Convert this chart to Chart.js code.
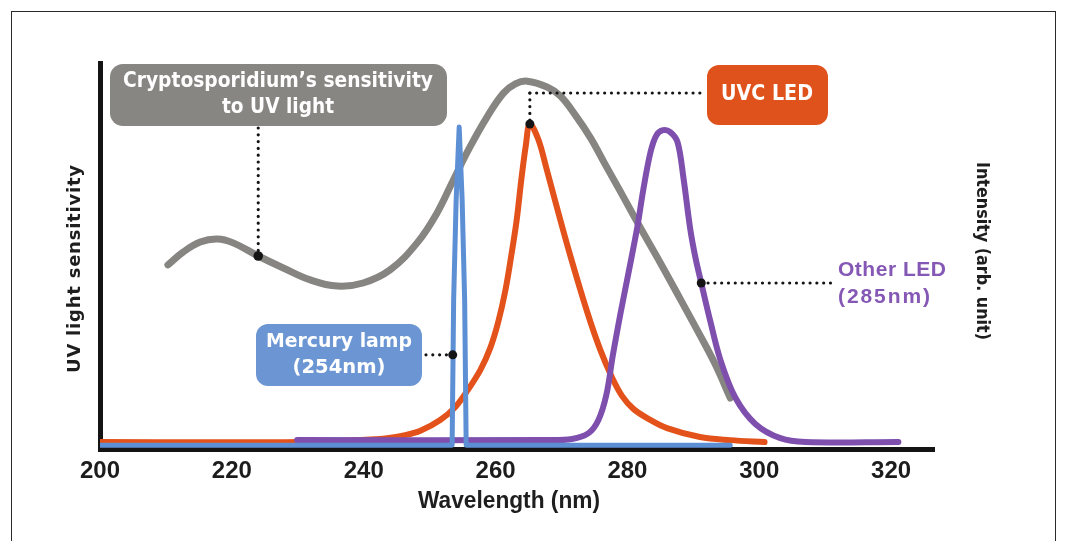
<!DOCTYPE html>
<html>
<head>
<meta charset="utf-8">
<script src="https://cdn.jsdelivr.net/npm/chart.js@4.4.1/dist/chart.umd.min.js"></script>
<style>
  html, body { margin: 0; padding: 0; background: #fff; }
  #wrap { position: relative; width: 1065px; height: 541px; overflow: hidden; }
  #frame { position: absolute; left: 11px; top: 11px; width: 1045px; height: 560px;
           border: 1.5px solid #2a2a2a; box-sizing: border-box; }
  #c { position: absolute; left: 0; top: 0; }
</style>
</head>
<body>
<div id="wrap"><div id="frame"></div><canvas id="c" width="1065" height="541"></canvas></div>
<script>
// ---- data (wavelength in nm, arbitrary units 0..100)
const xTicks = [200, 220, 240, 260, 280, 300, 320];

const cryptoNm   = [210.3, 212.6, 215.2, 217.8, 220.2, 224.0, 227.8, 231.9, 236.0, 239.9, 244.0, 248.1, 251.1, 253.6, 256.1, 258.7, 261.2, 263.0, 264.8, 267.8, 269.8, 272.1, 274.4, 276.6, 278.9, 281.9, 285.0, 288.0, 291.0, 293.3, 295.6];
const cryptoSens = [47.7, 51.0, 53.6, 54.4, 53.4, 50.0, 46.9, 43.8, 42.2, 43.0, 46.4, 53.4, 61.1, 69.7, 78.2, 86.0, 92.2, 94.6, 95.3, 93.8, 91.5, 86.5, 80.6, 73.8, 66.8, 57.5, 48.2, 38.9, 29.5, 22.0, 13.2];

const uvcNm  = [200, 230.3, 242.5, 246.3, 248.6, 251.6, 253.9, 255.8, 257.7, 259.2, 260.4, 261.5, 262.4, 263.2, 263.9, 264.6, 265.2, 266.5, 267.7, 269.0, 271.3, 273.9, 275.9, 277.7, 279.2, 280.9, 283.2, 286.0, 291.0, 295.6, 300.8];
const uvcInt = [1.8, 1.8, 2.6, 3.6, 4.7, 7.5, 10.9, 15.3, 20.5, 26.2, 32.9, 41.2, 50.3, 59.3, 69.7, 78.8, 84.2, 80.1, 72.8, 64.5, 50.3, 35.5, 25.6, 18.4, 13.7, 10.4, 7.8, 5.4, 3.1, 2.3, 1.8];

const mercuryNm  = [200, 253.41, 253.64, 254.02, 254.48, 254.93, 255.31, 255.54, 295.6];
const mercuryInt = [1.0, 1.0, 38.6, 64.5, 83.4, 64.5, 38.6, 1.0, 1.0];

const otherNm  = [229.9, 267.8, 271.6, 274.1, 275.6, 276.8, 277.8, 278.9, 280.1, 281.5, 282.4, 283.5, 284.4, 285.4, 286.5, 287.6, 288.5, 289.5, 290.3, 291.2, 292.6, 294.1, 296.4, 299.4, 303.2, 307.0, 321.1];
const otherInt = [2.3, 2.3, 2.6, 4.1, 7.5, 14.0, 24.4, 34.7, 45.1, 57.5, 67.1, 76.9, 81.3, 82.6, 82.1, 79.5, 70.2, 57.3, 49.7, 43.0, 32.9, 23.1, 13.2, 6.5, 2.8, 1.8, 1.8];

// callout anchor points: [gray, UVC, mercury, other LED]
const anchorNm  = [224.0, 265.2, 253.5, 291.2];
const anchorVal = [50.0, 84.2, 24.4, 43.0];

const SANS = '"Liberation Sans", Arial, Helvetica, sans-serif';
const WIDE = '"DejaVu Sans", Verdana, sans-serif';
const pts = (xs, ys) => xs.map((x, i) => ({ x, y: ys[i] }));

function drawFit(ctx, text, cx, cy, w, size, color, fam, rot) {
  ctx.save();
  ctx.translate(cx, cy);
  if (rot) ctx.rotate(rot);
  ctx.font = `bold ${size}px ${fam}`;
  ctx.fillStyle = color;
  ctx.textBaseline = 'middle';
  ctx.textAlign = 'left';
  const m = ctx.measureText(text).width;
  const n = Array.from(text).length;
  if (m < w && n > 1 && 'letterSpacing' in ctx) {
    ctx.letterSpacing = ((w - m) / (n - 1)).toFixed(2) + 'px';
    ctx.fillText(text, -w / 2, 0);
    ctx.letterSpacing = '0px';
  } else {
    ctx.fillText(text, -w / 2, 0, w);
  }
  ctx.restore();
}

function roundBox(ctx, x0, y0, x1, y1, r, fill) {
  ctx.beginPath();
  ctx.roundRect(x0, y0, x1 - x0, y1 - y0, r);
  ctx.fillStyle = fill;
  ctx.fill();
}

function dotted(ctx, x0, y0, x1, y1) {
  ctx.save();
  ctx.strokeStyle = '#141414';
  ctx.lineWidth = 3.2;
  ctx.lineCap = 'round';
  ctx.setLineDash([0, 6.8]);
  ctx.beginPath();
  ctx.moveTo(x0, y0);
  ctx.lineTo(x1, y1);
  ctx.stroke();
  ctx.restore();
}

function dot(ctx, x, y, r) {
  ctx.beginPath();
  ctx.arc(x, y, r, 0, Math.PI * 2);
  ctx.fillStyle = '#141414';
  ctx.fill();
}

const callouts = {
  id: 'callouts',
  afterDatasetsDraw(chart) {
    const ctx = chart.ctx, xs = chart.scales.x, ys = chart.scales.y;
    const A = anchorNm.map((n, i) => [xs.getPixelForValue(n), ys.getPixelForValue(anchorVal[i])]);

    // Cryptosporidium box
    roundBox(ctx, 110, 64, 447, 126, 13, '#878682');
    drawFit(ctx, 'Cryptosporidium’s sensitivity', 278, 82, 310, 21, '#fff', WIDE);
    drawFit(ctx, 'to UV light', 278, 108, 112, 21, '#fff', WIDE);
    dotted(ctx, A[0][0], 128, A[0][0], A[0][1]);
    dot(ctx, A[0][0], A[0][1], 4.8);

    // UVC LED box
    roundBox(ctx, 707, 65, 828, 125, 12, '#e0521c');
    drawFit(ctx, 'UVC LED', 767, 94, 92, 22, '#fff', WIDE);
    dotted(ctx, A[1][0], 93, 704, 93);
    dotted(ctx, A[1][0], 93, A[1][0], A[1][1]);
    dot(ctx, A[1][0], A[1][1], 4.5);

    // Mercury lamp box
    roundBox(ctx, 256, 324, 422, 386, 12, '#6b96d3');
    drawFit(ctx, 'Mercury lamp', 339, 342, 146, 20, '#fff', WIDE);
    drawFit(ctx, '(254nm)', 339, 368, 93, 20, '#fff', WIDE);
    dotted(ctx, 426, A[2][1], A[2][0], A[2][1]);
    dot(ctx, A[2][0], A[2][1], 4.5);

    // Other LED label
    dotted(ctx, A[3][0], A[3][1], 833, A[3][1]);
    dot(ctx, A[3][0], A[3][1], 4.5);
    drawFit(ctx, 'Other LED', 838 + 54, 270, 108, 21, '#8558b5', SANS);
    drawFit(ctx, '(285nm)', 838 + 46, 297, 92, 21, '#8558b5', SANS);

    // axis titles
    drawFit(ctx, 'UV light sensitivity', 75.5, 269, 208, 18, '#1e1e1e', WIDE, -Math.PI / 2);
    drawFit(ctx, 'Intensity (arb. unit)', 981, 251, 178, 17, '#1e1e1e', WIDE, Math.PI / 2);
    drawFit(ctx, 'Wavelength (nm)', 509, 502, 182, 23, '#1e1e1e', SANS);
  }
};

new Chart(document.getElementById('c'), {
  type: 'line',
  data: {
    datasets: [
      { label: 'Mercury lamp (254nm)', data: pts(mercuryNm, mercuryInt), borderColor: '#5d8fd5', borderWidth: 5, tension: 0 },
      { label: 'Other LED (285nm)', data: pts(otherNm, otherInt), borderColor: '#7f4fae', borderWidth: 6, tension: 0.35 },
      { label: 'UVC LED', data: pts(uvcNm, uvcInt), borderColor: '#e3521b', borderWidth: 6, tension: 0.35 },
      { label: 'Cryptosporidium sensitivity', data: pts(cryptoNm, cryptoSens), borderColor: '#868582', borderWidth: 7, tension: 0.4 },
    ],
  },
  options: {
    responsive: false,
    animation: false,
    devicePixelRatio: 1,
    layout: { padding: { left: 0, top: 63, right: 131, bottom: 0 } },
    elements: { point: { radius: 0 }, line: { borderCapStyle: 'round', borderJoinStyle: 'round' } },
    plugins: { legend: { display: false }, tooltip: { enabled: false } },
    scales: {
      x: {
        type: 'linear', min: 200, max: 326.5,
        afterBuildTicks: s => { s.ticks = xTicks.map(v => ({ value: v })); },
        afterFit: s => { s.height = 92; },
        grid: { display: false, drawTicks: false },
        border: { color: '#141414', width: 5 },
        ticks: { padding: 8, maxRotation: 0, color: '#1c1c1c', font: { family: SANS, size: 24, weight: 'bold' } },
      },
      y: {
        min: 0, max: 100,
        afterFit: s => { s.width = 100; },
        grid: { display: false, drawTicks: false },
        border: { color: '#141414', width: 5 },
        ticks: { display: false },
      },
    },
  },
  plugins: [callouts],
});
</script>
</body>
</html>
